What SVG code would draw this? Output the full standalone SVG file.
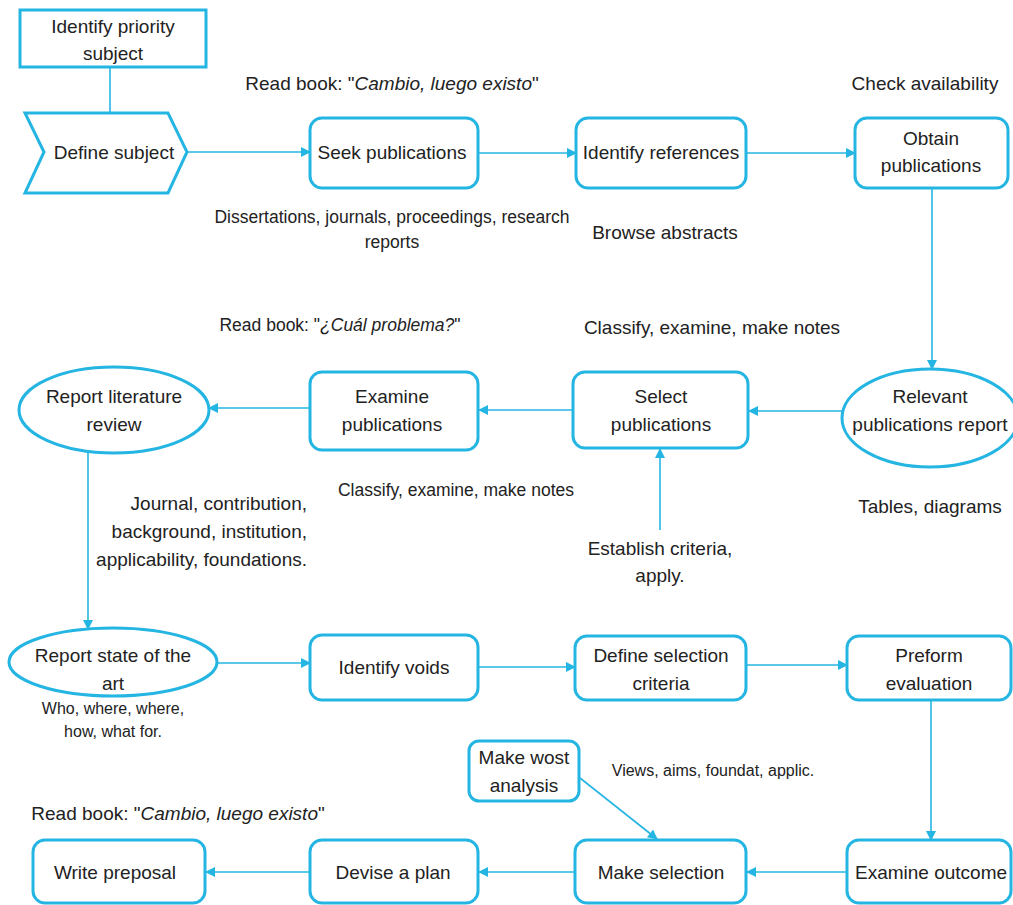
<svg xmlns="http://www.w3.org/2000/svg" width="1013" height="905" viewBox="0 0 1013 905">
<style>
.n{fill:#fff;stroke:#25b5e2;stroke-width:3}
.c{fill:none;stroke:#25b5e2;stroke-width:1.6}
text{font-family:"Liberation Sans",Arial,sans-serif;fill:#222;text-anchor:middle}
.t{font-size:19px}
.s{font-size:17.5px}
.x{font-size:16px}
</style>
<defs>
<marker id="a" viewBox="0 0 10 10" refX="9" refY="5" markerWidth="10" markerHeight="10" markerUnits="userSpaceOnUse" orient="auto">
<path d="M0,0 L10,5 L0,10 z" fill="#25b5e2"/>
</marker>
</defs>
<rect width="1013" height="905" fill="#fff"/>
<g id="connectors">
<line class="c" x1="110" y1="67" x2="110" y2="113"/>
<line class="c" x1="187" y1="152" x2="310" y2="152" marker-end="url(#a)"/>
<line class="c" x1="478" y1="153" x2="576" y2="153" marker-end="url(#a)"/>
<line class="c" x1="746" y1="153" x2="855" y2="153" marker-end="url(#a)"/>
<line class="c" x1="932" y1="188" x2="932" y2="369" marker-end="url(#a)"/>
<line class="c" x1="842" y1="411" x2="749" y2="411" marker-end="url(#a)"/>
<line class="c" x1="660" y1="530" x2="660" y2="449" marker-end="url(#a)"/>
<line class="c" x1="573" y1="410" x2="479" y2="410" marker-end="url(#a)"/>
<line class="c" x1="310" y1="408" x2="209" y2="408" marker-end="url(#a)"/>
<line class="c" x1="88" y1="451" x2="88" y2="629" marker-end="url(#a)"/>
<line class="c" x1="217" y1="663" x2="310" y2="663" marker-end="url(#a)"/>
<line class="c" x1="478" y1="667" x2="575" y2="667" marker-end="url(#a)"/>
<line class="c" x1="746" y1="665" x2="847" y2="665" marker-end="url(#a)"/>
<line class="c" x1="931" y1="700" x2="931" y2="840" marker-end="url(#a)"/>
<line class="c" x1="847" y1="872" x2="747" y2="872" marker-end="url(#a)"/>
<line class="c" x1="575" y1="872" x2="479" y2="872" marker-end="url(#a)"/>
<line class="c" x1="310" y1="872" x2="206" y2="872" marker-end="url(#a)"/>
<line class="c" x1="580" y1="778" x2="657" y2="839" marker-end="url(#a)"/>
</g>
<g id="identify-priority"><rect class="n" x="20" y="10" width="186" height="57"/><text class="t" x="113" y="33">Identify priority</text><text class="t" x="113" y="60">subject</text></g>
<g id="define-subject"><polygon class="n" points="25,113 168,113 187,152 168,193 25,193 44,152"/><text class="t" x="114" y="159">Define subject</text></g>
<g id="seek"><rect class="n" x="310" y="118" width="168" height="70" rx="12"/><text class="t" x="392" y="159">Seek publications</text></g>
<g id="identify-ref"><rect class="n" x="576" y="118" width="170" height="70" rx="12"/><text class="t" x="661" y="159">Identify references</text></g>
<g id="obtain"><rect class="n" x="855" y="118" width="153" height="70" rx="12"/><text class="t" x="931" y="145">Obtain</text><text class="t" x="931" y="172">publications</text></g>
<g id="relevant"><ellipse class="n" cx="930" cy="418" rx="88" ry="49"/><text class="t" x="930" y="403">Relevant</text><text class="t" x="930" y="431">publications report</text></g>
<g id="select"><rect class="n" x="573" y="372" width="175" height="76" rx="12"/><text class="t" x="661" y="403">Select</text><text class="t" x="661" y="431">publications</text></g>
<g id="examine"><rect class="n" x="310" y="372" width="168" height="78" rx="12"/><text class="t" x="392" y="403">Examine</text><text class="t" x="392" y="431">publications</text></g>
<g id="report-lit"><ellipse class="n" cx="114" cy="410" rx="95" ry="43"/><text class="t" x="114" y="403">Report literature</text><text class="t" x="114" y="431">review</text></g>
<g id="report-state"><ellipse class="n" cx="113" cy="662" rx="104" ry="34"/><text class="t" x="113" y="662">Report state of the</text><text class="t" x="113" y="690">art</text></g>
<g id="voids"><rect class="n" x="310" y="635" width="168" height="65" rx="12"/><text class="t" x="394" y="674">Identify voids</text></g>
<g id="define-sel"><rect class="n" x="575" y="636" width="171" height="64" rx="12"/><text class="t" x="661" y="662">Define selection</text><text class="t" x="661" y="690">criteria</text></g>
<g id="preform"><rect class="n" x="847" y="636" width="164" height="64" rx="12"/><text class="t" x="929" y="662">Preform</text><text class="t" x="929" y="690">evaluation</text></g>
<g id="examine-outcome"><rect class="n" x="847" y="840" width="164" height="63" rx="12"/><text class="t" x="931" y="879">Examine outcome</text></g>
<g id="make-selection"><rect class="n" x="575" y="840" width="171" height="63" rx="12"/><text class="t" x="661" y="879">Make selection</text></g>
<g id="make-wost"><rect class="n" x="469" y="741" width="110" height="60" rx="10"/><text class="t" x="524" y="764">Make wost</text><text class="t" x="524" y="792">analysis</text></g>
<g id="devise"><rect class="n" x="310" y="840" width="168" height="63" rx="12"/><text class="t" x="393" y="879">Devise a plan</text></g>
<g id="write"><rect class="n" x="33" y="840" width="172" height="63" rx="12"/><text class="t" x="115" y="879">Write preposal</text></g>
<g id="labels">
<text class="t" x="392" y="90">Read book: "<tspan font-style="italic">Cambio, luego existo</tspan>"</text>
<text class="t" x="925" y="90">Check availability</text>
<text class="s" x="392" y="223">Dissertations, journals, proceedings, research</text>
<text class="s" x="392" y="248">reports</text>
<text class="t" x="665" y="239">Browse abstracts</text>
<text class="s" x="340" y="331">Read book: "<tspan font-style="italic">¿Cuál problema?</tspan>"</text>
<text class="t" x="712" y="334">Classify, examine, make notes</text>
<text class="s" x="456" y="496">Classify, examine, make notes</text>
<text class="t" x="930" y="513">Tables, diagrams</text>
<text class="t" x="307" y="510" style="text-anchor:end">Journal, contribution,</text>
<text class="t" x="307" y="538" style="text-anchor:end">background, institution,</text>
<text class="t" x="307" y="566" style="text-anchor:end">applicability, foundations.</text>
<text class="t" x="660" y="555">Establish criteria,</text>
<text class="t" x="660" y="582">apply.</text>
<text class="x" x="113" y="714">Who, where, where,</text>
<text class="x" x="113" y="737">how, what for.</text>
<text class="x" x="713" y="776">Views, aims, foundat, applic.</text>
<text class="t" x="178" y="820">Read book: "<tspan font-style="italic">Cambio, luego existo</tspan>"</text>
</g>
</svg>
